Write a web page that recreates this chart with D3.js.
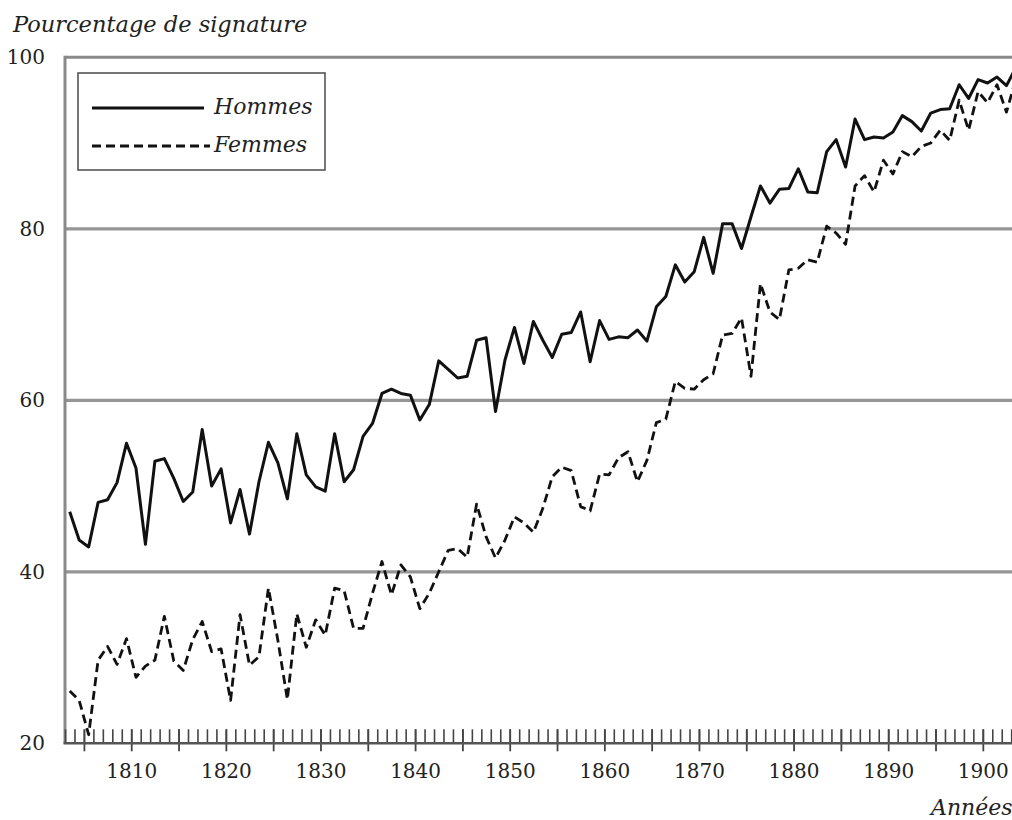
<!DOCTYPE html>
<html>
<head>
<meta charset="utf-8">
<script src="https://cdn.jsdelivr.net/npm/d3@7"></script>
<style>
  html, body { margin: 0; padding: 0; background: #fff; }
  svg { display: block; }
</style>
</head>
<body>
<div id="chart"></div>
<script>
const years = [1803,1804,1805,1806,1807,1808,1809,1810,1811,1812,1813,1814,1815,1816,1817,1818,1819,1820,
  1821,1822,1823,1824,1825,1826,1827,1828,1829,1830,1831,1832,1833,1834,1835,1836,1837,1838,1839,1840,
  1841,1842,1843,1844,1845,1846,1847,1848,1849,1850,1851,1852,1853,1854,1855,1856,1857,1858,1859,1860,
  1861,1862,1863,1864,1865,1866,1867,1868,1869,1870,1871,1872,1873,1874,1875,1876,1877,1878,1879,1880,
  1881,1882,1883,1884,1885,1886,1887,1888,1889,1890,1891,1892,1893,1894,1895,1896,1897,1898,1899,1900,
  1901,1902,1903];

const hommes = [47.0,43.7,42.9,48.1,48.4,50.4,55.0,52.1,43.2,52.9,53.2,50.9,48.2,49.3,56.6,50.0,52.0,45.7,
  49.6,44.4,50.5,55.1,52.7,48.5,56.1,51.3,49.9,49.4,56.1,50.5,51.9,55.8,57.3,60.8,61.3,60.8,60.6,57.7,
  59.5,64.6,63.6,62.6,62.8,67.0,67.3,58.7,64.7,68.5,64.3,69.2,67.0,65.0,67.7,67.9,70.3,64.5,69.3,67.1,
  67.4,67.3,68.2,66.9,70.9,72.1,75.8,73.8,75.0,79.0,74.8,80.6,80.6,77.7,81.4,85.0,83.0,84.6,84.7,87.0,
  84.3,84.2,89.0,90.4,87.2,92.8,90.4,90.7,90.6,91.3,93.2,92.5,91.4,93.5,93.9,94.0,96.8,95.2,97.4,97.0,
  97.7,96.7,98.8];

const femmes = [26.1,25.0,21.0,29.7,31.3,29.2,32.2,27.7,29.0,29.7,34.8,29.6,28.5,32.1,34.2,30.7,31.0,25.0,
  35.0,29.1,30.1,38.1,32.0,25.1,35.1,31.2,34.4,32.6,38.1,37.8,33.4,33.4,37.5,41.2,37.3,40.8,39.4,35.7,
  37.5,40.0,42.5,42.7,41.7,47.9,44.1,41.6,43.7,46.4,45.7,44.6,47.4,51.1,52.2,51.8,47.6,47.1,51.4,51.3,
  53.3,54.0,50.5,53.0,57.4,57.8,62.2,61.4,61.3,62.4,63.1,67.6,67.8,69.6,62.8,73.6,70.3,69.4,75.2,75.4,
  76.4,76.1,80.3,79.5,78.2,85.0,86.2,84.3,88.0,86.4,89.0,88.4,89.6,90.0,91.5,90.3,95.0,91.5,96.0,94.7,
  96.8,93.6,97.5];

const yTicks = [20, 40, 60, 80, 100];
const gridValues = [40, 60, 80];
const majorTicks = [1805,1810,1815,1820,1825,1830,1835,1840,1845,1850,1855,1860,1865,1870,1875,1880,1885,1890,1895,1900];
const labelledTicks = [1810,1820,1830,1840,1850,1860,1870,1880,1890,1900];
const seriesNames = ["Hommes", "Femmes"];
const titleY = "Pourcentage de signature";
const titleX = "Années";

const FONT = "DejaVu Serif";
const W = 1012, H = 820;
const mLeft = 65, mRight = 1011.2, mTop = 57.3, mBottom = 743.3;

const svg = d3.select("#chart").append("svg").attr("width", W).attr("height", H);
svg.append("rect").attr("width", W).attr("height", H).attr("fill", "#fff");

const x = d3.scaleLinear().domain([1803, 1903]).range([mLeft, mRight]);
const y = d3.scaleLinear().domain([20, 100]).range([mBottom, mTop]);

// horizontal grid lines
svg.append("g").selectAll("line").data(gridValues).join("line")
  .attr("x1", mLeft).attr("x2", W)
  .attr("y1", d => y(d)).attr("y2", d => y(d))
  .attr("stroke", "#959595").attr("stroke-width", 3.2);

// top and left borders
svg.append("line").attr("x1", mLeft).attr("x2", W).attr("y1", y(100)).attr("y2", y(100))
  .attr("stroke", "#8a8a8a").attr("stroke-width", 3);
svg.append("line").attr("x1", mLeft).attr("x2", mLeft).attr("y1", y(100) - 1.5).attr("y2", mBottom)
  .attr("stroke", "#8a8a8a").attr("stroke-width", 3);

svg.append("clipPath").attr("id", "plotclip").append("rect")
  .attr("x", mLeft).attr("y", mTop - 10).attr("width", W - mLeft).attr("height", mBottom - mTop + 10);

// minor ticks every year (inward)
const minorAxis = d3.axisBottom(x).tickValues(years).tickSize(-14).tickFormat("");
const gMinor = svg.append("g").attr("transform", `translate(0,${mBottom})`).call(minorAxis);
gMinor.select(".domain").remove();
gMinor.selectAll(".tick line").attr("stroke", "#444").attr("stroke-width", 1.6);

// major ticks every 5 years, labels every 10
const majorAxis = d3.axisBottom(x).tickValues(majorTicks).tickSize(8).tickPadding(12.5)
  .tickFormat(d => labelledTicks.includes(d) ? d : "");
const gMajor = svg.append("g").attr("transform", `translate(0,${mBottom})`).call(majorAxis);
gMajor.attr("font-family", FONT).attr("font-size", 20);
gMajor.select(".domain").remove();
gMajor.selectAll(".tick line").attr("y1", -14).attr("y2", 8).attr("stroke", "#444").attr("stroke-width", 1.8);
gMajor.selectAll(".tick text").attr("fill", "#222");

// bottom axis line
svg.append("line").attr("x1", mLeft - 1.5).attr("x2", W).attr("y1", mBottom).attr("y2", mBottom)
  .attr("stroke", "#555").attr("stroke-width", 2.6);

// y labels
const yAxis = d3.axisLeft(y).tickValues(yTicks).tickSize(0).tickPadding(20);
const gY = svg.append("g").attr("transform", `translate(${mLeft},0)`).call(yAxis);
gY.attr("font-family", FONT).attr("font-size", 20);
gY.select(".domain").remove();
gY.selectAll(".tick text").attr("fill", "#222");

// series
const line = d3.line().x((d, i) => x(years[i] + 0.5)).y(d => y(d));
const gData = svg.append("g").attr("clip-path", "url(#plotclip)");
gData.append("path").datum(femmes).attr("d", line).attr("fill", "none")
  .attr("stroke", "#111").attr("stroke-width", 2.8).attr("stroke-dasharray", "9,5")
  .attr("stroke-linejoin", "round");
gData.append("path").datum(hommes).attr("d", line).attr("fill", "none")
  .attr("stroke", "#111").attr("stroke-width", 3).attr("stroke-linejoin", "round");

// legend
const lg = svg.append("g");
lg.append("rect").attr("x", 78).attr("y", 73).attr("width", 247).attr("height", 97)
  .attr("fill", "#fff").attr("stroke", "#555").attr("stroke-width", 1.6);
lg.append("line").attr("x1", 92).attr("x2", 204).attr("y1", 108).attr("y2", 108)
  .attr("stroke", "#111").attr("stroke-width", 3);
lg.append("line").attr("x1", 92).attr("x2", 210).attr("y1", 146).attr("y2", 146)
  .attr("stroke", "#111").attr("stroke-width", 2.8).attr("stroke-dasharray", "9,5");
lg.append("text").attr("x", 214).attr("y", 114).attr("font-size", 22).attr("font-style", "italic")
  .attr("font-family", FONT).attr("fill", "#222").text(seriesNames[0]);
lg.append("text").attr("x", 214).attr("y", 152).attr("font-size", 22).attr("font-style", "italic")
  .attr("font-family", FONT).attr("fill", "#222").text(seriesNames[1]);

// titles
svg.append("text").attr("x", 13).attr("y", 32).attr("font-size", 22.5).attr("font-style", "italic")
  .attr("font-family", FONT).attr("fill", "#222").text(titleY);
svg.append("text").attr("x", 931).attr("y", 815).attr("font-size", 22).attr("font-style", "italic")
  .attr("font-family", FONT).attr("fill", "#222").text(titleX);
</script>
</body>
</html>
